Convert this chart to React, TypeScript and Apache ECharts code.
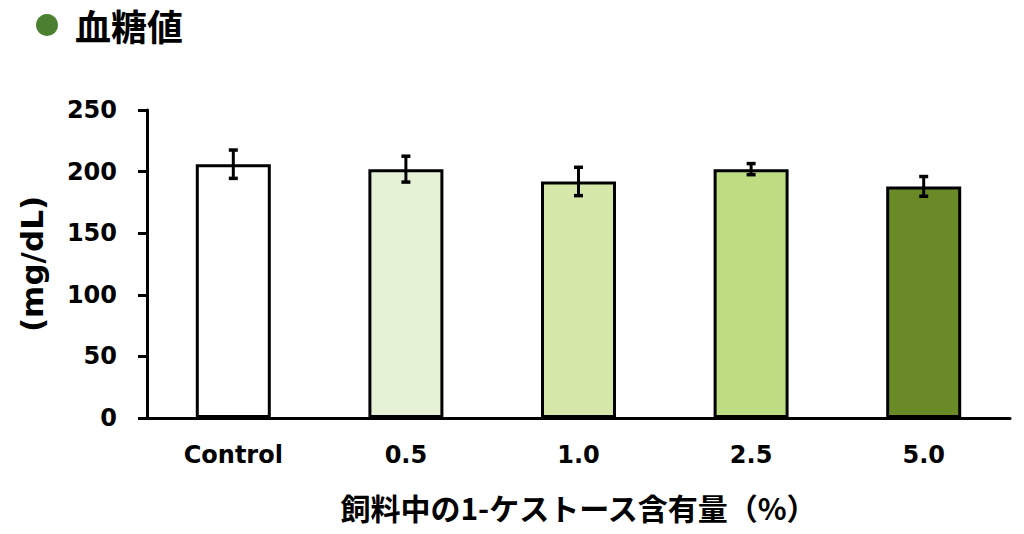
import React, { useEffect, useRef } from "react";
import * as echarts from "echarts";

const categories = ["Control", "0.5", "1.0", "2.5", "5.0"];
const means = [206, 202, 192, 202, 188];
const errors = [11.5, 10.5, 11.5, 4.5, 8];
const barColors = ["#FFFFFF", "#E6F2D6", "#D5E7A9", "#BEDC82", "#6A8A28"];
const yTicks = [0, 50, 100, 150, 200, 250];

const JP = "'Noto Sans CJK JP', sans-serif";
const LAT = "'DejaVu Sans', 'Noto Sans CJK JP', sans-serif";

export default function App() {
  const ref = useRef<HTMLDivElement>(null);
  useEffect(() => {
    if (!ref.current) return;
    const chart = echarts.init(ref.current, null, { renderer: "svg" });
    chart.setOption({
      animation: false,
      backgroundColor: "#FFFFFF",
      grid: { left: 147, right: 14, top: 110, bottom: 116 },
      graphic: [
        { type: "circle", shape: { cx: 47, cy: 25, r: 11 }, style: { fill: "#4B8030" } },
        {
          type: "text",
          x: 75,
          y: 25,
          style: {
            text: "血糖値",
            font: `bold 36px ${JP}`,
            fill: "#000",
            verticalAlign: "middle",
          },
        },
      ],
      xAxis: {
        type: "category",
        data: categories,
        axisLine: { lineStyle: { color: "#000", width: 3 } },
        axisTick: { show: false },
        axisLabel: { color: "#000", fontSize: 24, fontWeight: "bold", fontFamily: LAT, margin: 25 },
        name: "飼料中の1-ケストース含有量（%）",
        nameLocation: "middle",
        nameGap: 74,
        nameTextStyle: { color: "#000", fontSize: 30, fontWeight: "bold", fontFamily: JP },
      },
      yAxis: {
        type: "value",
        min: yTicks[0],
        max: yTicks[yTicks.length - 1],
        interval: 50,
        axisLine: { show: true, lineStyle: { color: "#000", width: 3 } },
        axisTick: { show: true, length: 9, lineStyle: { color: "#000", width: 3 } },
        splitLine: { show: false },
        axisLabel: { color: "#000", fontSize: 24, fontWeight: "bold", fontFamily: LAT, margin: 30 },
        name: "(mg/dL)",
        nameLocation: "middle",
        nameRotate: 90,
        nameGap: 100,
        nameTextStyle: { color: "#000", fontSize: 31, fontWeight: "bold", fontFamily: LAT },
      },
      series: [
        {
          type: "bar",
          barWidth: 75,
          data: means.map((v, i) => ({
            value: v,
            itemStyle: { color: barColors[i], borderColor: "#000", borderWidth: 3 },
          })),
        },
        {
          type: "custom",
          data: means.map((v, i) => [i, v, errors[i]]),
          renderItem: (params: any, api: any) => {
            const i = api.value(0);
            const m = api.value(1);
            const e = api.value(2);
            const top = api.coord([i, m + e]);
            const bot = api.coord([i, m - e]);
            const hw = 4.5;
            const style = { stroke: "#000", lineWidth: 3 };
            return {
              type: "group",
              children: [
                { type: "line", shape: { x1: top[0], y1: top[1], x2: bot[0], y2: bot[1] }, style },
                { type: "line", shape: { x1: top[0] - hw, y1: top[1], x2: top[0] + hw, y2: top[1] }, style: { stroke: "#000", lineWidth: 3.5 } },
                { type: "line", shape: { x1: bot[0] - hw, y1: bot[1], x2: bot[0] + hw, y2: bot[1] }, style: { stroke: "#000", lineWidth: 3.5 } },
              ],
            };
          },
          z: 10,
        },
      ],
    });
    return () => chart.dispose();
  }, []);
  return (
    <div
      ref={ref}
      style={{ position: "fixed", left: 0, top: 0, width: 1024, height: 534 }}
    />
  );
}
